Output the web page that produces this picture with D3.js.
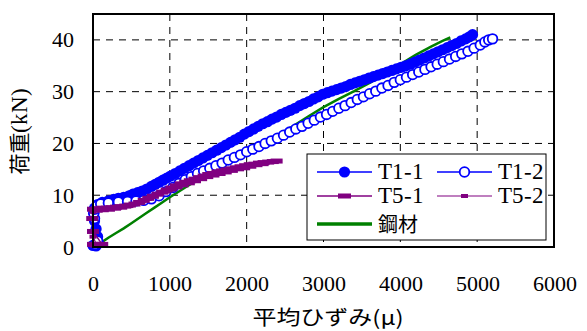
<!DOCTYPE html>
<html><head><meta charset="utf-8">
<script src="https://cdn.jsdelivr.net/npm/d3@7"></script>
<style>
@font-face{font-family:"XSerif";src:local("Liberation Serif"),local("LiberationSerif"),local("Liberation Serif Regular"),local("Tinos"),local("Times New Roman");}
text.sf,tspan.sf{font-family:"XSerif","Liberation Serif",serif !important}
</style>
</head><body style="margin:0">
<svg id="c" width="587" height="331"></svg>
<script>
const xTicks = [0,1000,2000,3000,4000,5000,6000];
const yTicks = [0,10,20,30,40];
const seriesNames = ["T1-1","T1-2","T5-1","T5-2","鋼材"];

// T1-1 (filled circles)
const t11 = [[0,0.3],[40,0.2],[70,0.8],[60,2],[40,3.5],[20,5],[10,6.5],[20,7.5],[60,8.2],[120,8.6],[200,8.9],[270,9.2],[330,9.4],[400,9.6],[470,9.9],[520,10.2],[580,10.5],[640,10.8],[700,11.2],[760,11.7],[810,12.1],[860,12.5],[910,12.9],[960,13.3],[1010,13.7],[1070,14.2],[1130,14.7],[1190,15.2],[1250,15.7],[1310,16.2],[1370,16.7],[1430,17.2],[1490,17.7],[1550,18.2],[1610,18.7],[1670,19.2],[1730,19.7],[1790,20.2],[1850,20.7],[1910,21.2],[1970,21.8],[2030,22.3],[2090,22.8],[2150,23.3],[2210,23.8],[2270,24.2],[2330,24.7],[2390,25.1],[2450,25.6],[2510,26.0],[2570,26.4],[2630,26.8],[2690,27.3],[2750,27.7],[2810,28.1],[2870,28.6],[2930,29.0],[2990,29.5],[3050,29.8],[3110,30.1],[3170,30.4],[3230,30.7],[3290,31.0],[3350,31.4],[3410,31.7],[3470,32.0],[3530,32.3],[3590,32.6],[3650,32.9],[3710,33.2],[3770,33.5],[3830,33.8],[3890,34.1],[3950,34.4],[4010,34.7],[4070,35.0],[4130,35.3],[4190,35.7],[4250,36.1],[4310,36.5],[4370,36.9],[4430,37.3],[4490,37.7],[4550,38.1],[4610,38.5],[4670,38.9],[4730,39.3],[4790,39.8],[4850,40.2],[4900,40.6],[4940,41.0]];

// T1-2 (open circles)
const t12 = [[30,0.5],[60,1.2],[20,5.5],[10,6.5],[20,7.3],[50,7.9],[100,8.3],[200,8.5],[330,8.7],[450,8.8],[560,8.9],[660,9.0],[760,9.3],[860,9.9],[950,10.7],[1040,11.5],[1120,12.3],[1200,13.0],[1280,13.6],[1360,14.2],[1440,14.7],[1520,15.2],[1600,15.7],[1680,16.2],[1760,16.8],[1840,17.3],[1920,17.8],[2000,18.4],[2080,18.9],[2160,19.4],[2240,20.0],[2320,20.5],[2400,21.0],[2480,21.6],[2560,22.2],[2640,22.8],[2720,23.3],[2800,23.9],[2880,24.5],[2960,25.1],[3040,25.6],[3120,26.2],[3200,26.8],[3280,27.3],[3360,27.9],[3440,28.5],[3520,29.0],[3600,29.6],[3680,30.1],[3760,30.7],[3840,31.2],[3920,31.8],[4000,32.3],[4080,32.8],[4160,33.3],[4240,33.8],[4320,34.3],[4400,34.8],[4480,35.3],[4560,35.8],[4640,36.3],[4720,36.8],[4800,37.3],[4880,37.8],[4960,38.4],[5040,39.0],[5100,39.6],[5150,40.0],[5200,40.2]];

// T5-1 (thick purple)
const t51 = [[0,0.5],[40,0.5],[80,0.5],[120,0.5],[0,3],[-10,5.5],[0,7.3],[60,7.4],[120,7.5],[180,7.5],[240,7.6],[300,7.7],[360,7.8],[420,7.9],[480,8.1],[540,8.3],[600,8.6],[660,9.0],[720,9.4],[780,9.8],[840,10.2],[900,10.6],[960,11.0],[1020,11.4],[1080,11.8],[1140,12.2],[1200,12.5],[1260,12.8],[1320,13.1],[1380,13.4],[1440,13.7],[1500,14.0],[1560,14.2],[1620,14.5],[1680,14.7],[1740,14.9],[1800,15.1],[1860,15.3],[1920,15.5],[1980,15.7],[2040,15.9],[2100,16.0],[2160,16.2],[2220,16.3],[2280,16.4],[2340,16.5],[2390,16.6]];

// T5-2 (thin purple)
const t52 = [[0,0.3],[50,0.3],[0,2],[0,6.8],[80,7.0],[160,7.1],[240,7.2],[320,7.4],[400,7.6],[480,7.9],[560,8.3],[640,8.8],[720,9.3],[800,9.8],[880,10.3],[960,10.7],[1040,11.1],[1120,11.5],[1200,11.9],[1280,12.3],[1360,12.7],[1440,13.1],[1520,13.5],[1600,13.8],[1680,14.1],[1760,14.4],[1840,14.7],[1920,15.0],[2000,15.2],[2080,15.5],[2160,15.8],[2240,16.0]];

// 鋼材 (green)
const steel = [[100,0.8],[200,1.8],[300,2.7],[400,3.6],[500,4.6],[600,5.6],[700,6.6],[800,7.6],[900,8.6],[1000,9.6],[1200,11.5],[1400,13.3],[1600,15.0],[1800,16.7],[2000,18.3],[2200,19.9],[2400,21.5],[2600,23.3],[2800,25.2],[3000,27.0],[3200,28.6],[3400,30.1],[3600,31.7],[3800,33.4],[4000,35.3],[4200,37.1],[4400,38.7],[4550,39.8],[4650,40.5]];

const svg = d3.select("#c");
const x = d3.scaleLinear().domain([0,6000]).range([93,554]);
const y = d3.scaleLinear().domain([0,45]).range([247,14]);
const BLUE="#0000ff", PURPLE="#800080", GREEN="#008000";
const SERIF = '"XSerif","Liberation Serif",serif';
const CJK = '"Noto Sans CJK JP"';

svg.append("rect").attr("width",587).attr("height",331).attr("fill","#fff");

// grid
const g = svg.append("g");
g.selectAll(".vx").data(xTicks.filter(d=>d>0&&d<6000)).enter().append("line")
  .attr("x1",d=>x(d)).attr("x2",d=>x(d)).attr("y1",y(45)).attr("y2",y(0))
  .attr("stroke","#000").attr("stroke-width",1).attr("stroke-dasharray","7,6");
g.selectAll(".hy").data(yTicks.filter(d=>d>0)).enter().append("line")
  .attr("x1",x(0)).attr("x2",x(6000)).attr("y1",d=>y(d)).attr("y2",d=>y(d))
  .attr("stroke","#000").attr("stroke-width",1).attr("stroke-dasharray","7,6");

// axes labels via d3 axes
const xAxis = svg.append("g").attr("transform",`translate(0,${y(0)})`)
  .call(d3.axisBottom(x).tickValues(xTicks).tickSize(0).tickPadding(28).tickFormat(d3.format("d")));
xAxis.attr("font-family",SERIF);
xAxis.select(".domain").remove();
xAxis.selectAll("text").attr("class","sf").style("font-family",SERIF).style("font-size","22px").attr("fill","#000");
const yAxis = svg.append("g").attr("transform",`translate(${x(0)},0)`)
  .call(d3.axisLeft(y).tickValues(yTicks).tickSize(0).tickPadding(19).tickFormat(d3.format("d")));
yAxis.attr("font-family",SERIF);
yAxis.select(".domain").remove();
yAxis.selectAll("text").attr("class","sf").style("font-family",SERIF).style("font-size","22px").attr("fill","#000");

const line = d3.line().x(d=>x(d[0])).y(d=>y(d[1]));

// steel
svg.append("path").attr("d",line(steel)).attr("fill","none").attr("stroke",GREEN).attr("stroke-width",2.5);

// T1-1
svg.append("path").attr("d",line(t11)).attr("fill","none").attr("stroke",BLUE).attr("stroke-width",1.5);
svg.append("g").selectAll("circle").data(t11).enter().append("circle")
  .attr("cx",d=>x(d[0])).attr("cy",d=>y(d[1])).attr("r",5.6).attr("fill",BLUE);

// T1-2
svg.append("path").attr("d",line(t12)).attr("fill","none").attr("stroke",BLUE).attr("stroke-width",1.5);
svg.append("g").selectAll("circle").data(t12).enter().append("circle")
  .attr("cx",d=>x(d[0])).attr("cy",d=>y(d[1])).attr("r",4.8).attr("fill","#fff").attr("stroke",BLUE).attr("stroke-width",1.8);

// T5-1
svg.append("path").attr("d",line(t51)).attr("fill","none").attr("stroke",PURPLE).attr("stroke-width",1.5);
svg.append("g").selectAll("rect").data(t51).enter().append("rect")
  .attr("x",d=>x(d[0])-6).attr("y",d=>y(d[1])-2.5).attr("width",12).attr("height",5).attr("fill",PURPLE);

// T5-2
svg.append("path").attr("d",line(t52)).attr("fill","none").attr("stroke",PURPLE).attr("stroke-width",1.2);
svg.append("g").selectAll("rect").data(t52).enter().append("rect")
  .attr("x",d=>x(d[0])-3.5).attr("y",d=>y(d[1])-2).attr("width",7).attr("height",4).attr("fill",PURPLE);

// frame
svg.append("rect").attr("x",x(0)).attr("y",y(45)).attr("width",x(6000)-x(0)).attr("height",y(0)-y(45))
  .attr("fill","none").attr("stroke","#000").attr("stroke-width",2);

// legend
const L = svg.append("g");
L.append("rect").attr("x",307).attr("y",154).attr("width",239).attr("height",86).attr("fill","#fff").attr("stroke","#000").attr("stroke-width",1);
const leg = [
  {name:seriesNames[0], lx:317, ly:172, col:BLUE, w:1.5, mark:"fc"},
  {name:seriesNames[1], lx:437, ly:172, col:BLUE, w:1.5, mark:"oc"},
  {name:seriesNames[2], lx:317, ly:196, col:PURPLE, w:1.5, mark:"r1"},
  {name:seriesNames[3], lx:437, ly:196, col:PURPLE, w:1.2, mark:"r2"},
  {name:seriesNames[4], lx:317, ly:224, col:GREEN, w:3.5, mark:null}
];
leg.forEach(e=>{
  L.append("line").attr("x1",e.lx).attr("x2",e.lx+55).attr("y1",e.ly).attr("y2",e.ly).attr("stroke",e.col).attr("stroke-width",e.w);
  const cx=e.lx+27.5;
  if(e.mark==="fc") L.append("circle").attr("cx",cx).attr("cy",e.ly).attr("r",5.6).attr("fill",BLUE);
  if(e.mark==="oc") L.append("circle").attr("cx",cx).attr("cy",e.ly).attr("r",4.8).attr("fill","#fff").attr("stroke",BLUE).attr("stroke-width",1.8);
  if(e.mark==="r1") L.append("rect").attr("x",cx-6.5).attr("y",e.ly-2.5).attr("width",13).attr("height",5).attr("fill",PURPLE);
  if(e.mark==="r2") L.append("rect").attr("x",cx-3.5).attr("y",e.ly-2).attr("width",7).attr("height",4).attr("fill",PURPLE);
  const t = L.append("text").attr("x",e.lx+61).attr("y",e.ly+7).attr("fill","#000");
  if(e.mark) t.attr("class","sf").style("font-family",SERIF).style("font-size","23px").text(e.name);
  else t.style("font-family",CJK).style("font-size","20px").attr("y",e.ly+8).text(e.name);
});

// axis titles
svg.append("text").attr("transform","translate(328,325) scale(1.2,1)").attr("text-anchor","middle")
  .style("font-family",CJK).style("font-size","20px").attr("fill","#000").text("平均ひずみ(μ)");
const yt = svg.append("text").attr("transform","translate(27,131) rotate(-90)").attr("text-anchor","middle").attr("fill","#000");
yt.append("tspan").style("font-family",CJK).style("font-size","21px").text("荷重");
yt.append("tspan").attr("class","sf").style("font-family",SERIF).style("font-size","23px").text("(kN)");
</script>
</body></html>
